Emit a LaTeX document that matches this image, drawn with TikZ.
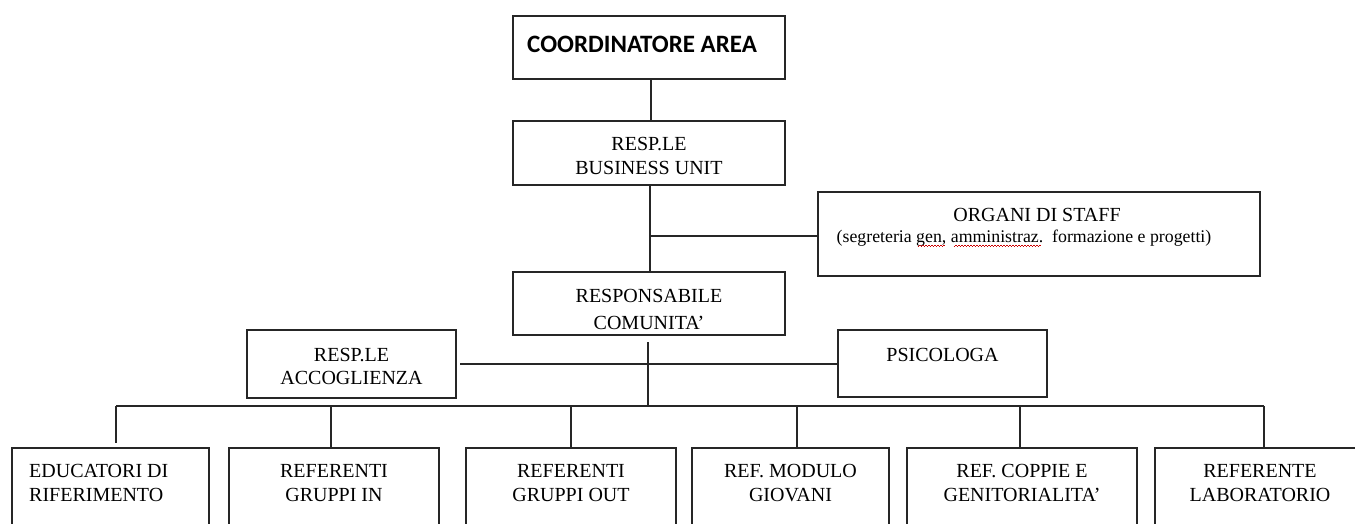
\documentclass[tikz,border=0pt]{standalone}
\usepackage{fontspec}
\setmainfont{Liberation Serif}
\newfontfamily\calib{Carlito}
\newsavebox\sqbox
\newcommand\squig[1]{\sbox\sqbox{#1}\rlap{\usebox\sqbox}\textcolor{red!80!black}{\leaders\hbox to 3pt{\rule[-4.2pt]{1.5pt}{0.7pt}\rule[-3.4pt]{1.5pt}{0.7pt}}\hskip\wd\sqbox}}
\tikzset{
  box/.style={draw=black!85, line width=1.3pt, inner sep=0pt, fill=none},
  txt/.style={anchor=base, inner sep=0pt, align=center, font=\fontsize{20}{24}\selectfont},
  conn/.style={draw=black!85, line width=1.2pt}
}
\begin{document}
\begin{tikzpicture}[x=1pt,y=-1pt]
\useasboundingbox (0,0) rectangle (1355,524);
\clip (0,0) rectangle (1355,524);
% boxes
\node[box, minimum width=272pt, minimum height=63pt] (coord) at (649,47.5) {};
\node[box, minimum width=272pt, minimum height=64pt] (bu) at (649,153) {};
\node[box, minimum width=442pt, minimum height=84pt] (staff) at (1039,234) {};
\node[box, minimum width=272pt, minimum height=63pt] (com) at (649,303.5) {};
\node[box, minimum width=209pt, minimum height=68pt] (acc) at (351.5,364) {};
\node[box, minimum width=209pt, minimum height=67pt] (psi) at (942.5,363.5) {};
\node[box, minimum width=197pt, minimum height=120pt] (edu) at (110.5,508) {};
\node[box, minimum width=210pt, minimum height=120pt] (rin) at (334,508) {};
\node[box, minimum width=210pt, minimum height=120pt] (rout) at (571,508) {};
\node[box, minimum width=197pt, minimum height=120pt] (mod) at (790.5,508) {};
\node[box, minimum width=230pt, minimum height=120pt] (cop) at (1022,508) {};
\node[box, minimum width=210pt, minimum height=120pt] (lab) at (1260,508) {};
% texts (multi-line nodes are placed at the baseline of their last line)
\node[txt, anchor=base west, font=\calib\bfseries\fontsize{25}{28}\selectfont] (tcoord) at (527,53) {COORDINATORE AREA};
\node[txt] (tbu) at (649,175) {RESP.LE\\BUSINESS UNIT};
\node[txt] (tstaff) at (1037,221) {ORGANI DI STAFF};
\node[txt, font=\fontsize{17.8}{20}\selectfont] (tstaff2) at (1024,242) {(segreteria \squig{gen,} \squig{amministraz.}~ formazione e progetti)};
\node[txt, font=\fontsize{20}{27}\selectfont] (tcom) at (649,329) {RESPONSABILE\\COMUNITA'};
\node[txt, font=\fontsize{20}{23}\selectfont] (tacc) at (351.5,384) {RESP.LE\\ACCOGLIENZA};
\node[txt] (tpsi) at (942.5,361) {PSICOLOGA};
\node[txt, anchor=base west, align=left] (tedu) at (29,501) {EDUCATORI DI\\RIFERIMENTO};
\node[txt] (trin) at (334,501) {REFERENTI\\GRUPPI IN};
\node[txt] (trout) at (571,501) {REFERENTI\\GRUPPI OUT};
\node[txt] (tmod) at (790.5,501) {REF. MODULO\\GIOVANI};
\node[txt] (tcop) at (1022,501) {REF. COPPIE E\\GENITORIALITA'};
\node[txt] (tlab) at (1260,501) {REFERENTE\\LABORATORIO};
% junction coordinates
\coordinate (j1) at (650,236);
\coordinate (c1) at (648,342);
\coordinate (bus) at (648,406);
\coordinate (busL) at (116,406);
\coordinate (busR) at (1264,406);
\coordinate (d1) at (116,443);
\coordinate (b2) at (331,406);
\coordinate (b3) at (571,406);
\coordinate (b4) at (797,406);
\coordinate (b5) at (1020,406);
\coordinate (accR) at (460,364);
% connectors
\draw[conn] (coord.south -| 651,0) -- (bu.north -| 651,0);
\draw[conn] (bu.south -| 650,0) -- (com.north -| 650,0);
\draw[conn] (j1) -- (j1 -| staff.west);
\draw[conn] (c1) -- (bus);
\draw[conn] (accR) -- (accR -| psi.west);
\draw[conn] (busL) -- (busR);
\draw[conn] (busL) -- (d1);
\draw[conn] (b2) -- (b2 |- rin.north);
\draw[conn] (b3) -- (b3 |- rout.north);
\draw[conn] (b4) -- (b4 |- mod.north);
\draw[conn] (b5) -- (b5 |- cop.north);
\draw[conn] (busR) -- (busR |- lab.north);
\end{tikzpicture}
\end{document}
